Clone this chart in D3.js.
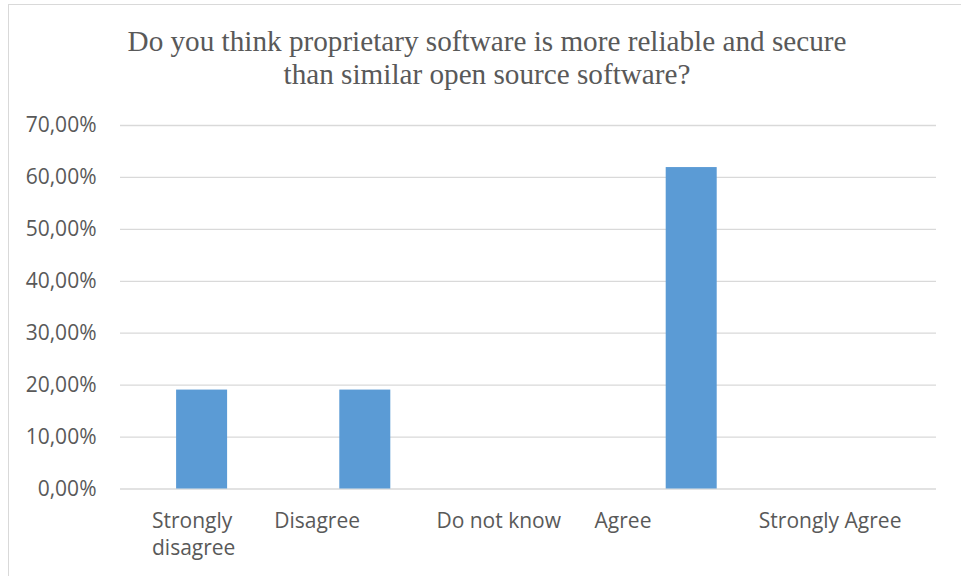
<!DOCTYPE html>
<html>
<head>
<meta charset="utf-8">
<script src="https://cdn.jsdelivr.net/npm/d3@7"></script>
<style>
  html, body { margin: 0; padding: 0; background: #fff; }
  svg { display: block; }
</style>
</head>
<body>
<svg id="chart" width="961" height="576"></svg>
<script>
// Survey answers and share of respondents
const categories = ["Strongly disagree", "Disagree", "Do not know", "Agree", "Strongly Agree"];
const shares = [0.1905, 0.1905, 0, 0.619, 0];
const yTicks = [0, 0.1, 0.2, 0.3, 0.4, 0.5, 0.6, 0.7];
const titleLines = [
  "Do you think proprietary software is more reliable and secure",
  "than similar open source software?"
];
// Category labels wrapped onto lines
const labelLines = [["Strongly", "disagree"], ["Disagree"], ["Do not know"], ["Agree"], ["Strongly Agree"]];

const svg = d3.select("#chart");
const W = 961, H = 576;
const plot = { left: 120, right: 936, top: 125, bottom: 488.5 };
const sans = "'Open Sans', 'DejaVu Sans', sans-serif";
const textColor = "#595959";
const gridColor = "#D9D9D9";

// Chart frame
svg.append("rect")
  .attr("x", 8.5).attr("y", 4.5)
  .attr("width", W).attr("height", H)
  .attr("fill", "#fff")
  .attr("stroke", gridColor).attr("stroke-width", 1);

const x = d3.scaleBand()
  .domain(categories)
  .range([plot.left, plot.right])
  .paddingInner(0.6875)
  .paddingOuter(0.34375);

const y = d3.scaleLinear()
  .domain([0, 0.7])
  .range([plot.bottom, plot.top]);

const fmt = v => d3.format(".2f")(v * 100).replace(".", ",") + "%";

// Horizontal gridlines with percentage labels
const yAxis = d3.axisLeft(y)
  .tickValues(yTicks)
  .tickSize(-(plot.right - plot.left))
  .tickPadding(23.5)
  .tickFormat(fmt);

const yg = svg.append("g")
  .attr("transform", `translate(${plot.left},0)`)
  .call(yAxis);
yg.select(".domain").remove();
yg.selectAll(".tick line")
  .attr("stroke", gridColor)
  .attr("stroke-width", 1.3);
yg.selectAll(".tick text")
  .attr("fill", textColor)
  .style("font-family", sans)
  .style("font-size", "21px");

// Bars
svg.append("g")
  .selectAll("rect")
  .data(categories.map((c, i) => ({ c, v: shares[i] })))
  .join("rect")
  .attr("x", d => x(d.c))
  .attr("width", x.bandwidth())
  .attr("y", d => y(d.v))
  .attr("height", d => y(0) - y(d.v))
  .attr("fill", "#5B9BD5");

// Category labels, left-aligned near each band as the wrapped layout places them
const labelShift = [32, -9, -10, -15, -14];
const step = x.step();
const xg = svg.append("g");
categories.forEach((c, i) => {
  const bandStart = x(c) - x.paddingInner() * step / 2;
  const t = xg.append("text")
    .attr("x", bandStart + labelShift[i])
    .attr("y", 528)
    .attr("fill", textColor)
    .style("font-family", sans)
    .style("font-size", "21px");
  labelLines[i].forEach((line, j) => {
    t.append("tspan")
      .attr("x", bandStart + labelShift[i])
      .attr("dy", j === 0 ? 0 : 27)
      .text(line);
  });
});

// Title
const title = svg.append("text")
  .attr("text-anchor", "middle")
  .attr("fill", textColor)
  .style("font-family", "'Liberation Serif', 'Times New Roman', serif")
  .style("font-size", "29.2px");
titleLines.forEach((line, j) => {
  title.append("tspan")
    .attr("x", 487)
    .attr("y", 51 + j * 33)
    .text(line);
});
</script>
</body>
</html>
